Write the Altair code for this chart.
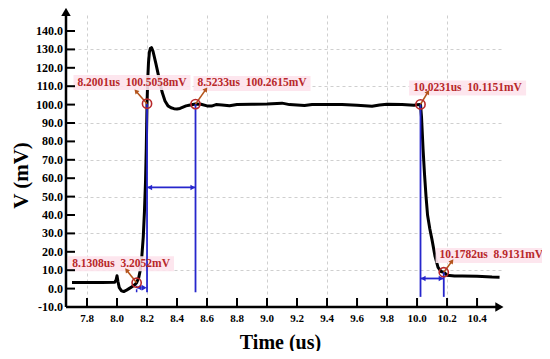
import math
import altair as alt
import pandas as pd

# ---------------- data ----------------
time_us = [7.70, 7.80, 7.90, 7.985, 7.995, 8.000, 8.006, 8.015, 8.030, 8.045, 8.060,
           8.080, 8.100, 8.120, 8.1308, 8.145, 8.155, 8.165, 8.175, 8.183, 8.190, 8.195,
           8.2001, 8.205, 8.210, 8.216, 8.222, 8.230, 8.240, 8.260, 8.280, 8.300, 8.320,
           8.340, 8.360, 8.380, 8.400, 8.420, 8.440, 8.460, 8.480, 8.5233, 8.560, 8.600,
           8.630, 8.660, 8.700, 8.750, 8.800, 8.900, 9.000, 9.100, 9.150, 9.250, 9.300,
           9.400, 9.500, 9.600, 9.700, 9.750, 9.800, 9.900, 9.980, 10.000, 10.0231, 10.030,
           10.040, 10.050, 10.060, 10.070, 10.085, 10.100, 10.120, 10.140, 10.160, 10.1782,
           10.200, 10.250, 10.300, 10.400, 10.500, 10.550]
volt_mv = [3.3, 3.3, 3.3, 3.4, 5.0, 7.0, 4.0, 0.5, -1.2, -1.6, -1.0,
           0.0, 1.0, 2.2, 3.2, 6.0, 10.0, 17.0, 28.0, 42.0, 58.0, 76.0,
           100.5, 114.0, 123.0, 128.5, 130.5, 131.0, 129.0, 122.0, 114.5, 107.0, 102.0,
           99.3, 98.3, 97.8, 97.6, 97.9, 98.6, 99.3, 99.6, 100.3, 100.2, 99.3,
           99.2, 100.0, 99.8, 99.4, 100.1, 100.2, 100.3, 100.8, 100.0, 99.5, 100.0,
           100.0, 100.1, 99.6, 99.1, 99.8, 100.2, 100.0, 99.7, 99.9, 100.1, 93.0,
           76.0, 62.0, 50.0, 40.0, 32.5, 26.5, 17.5, 11.5, 9.3, 8.9,
           7.3, 6.8, 6.9, 6.7, 6.3, 6.2]

x_ticks = [7.8, 8.0, 8.2, 8.4, 8.6, 8.8, 9.0, 9.2, 9.4, 9.6, 9.8, 10.0, 10.2, 10.4]
x_tick_labels = ["7.8", "8.0", "8.2", "8.4", "8.6", "8.8", "9.0", "9.2", "9.4", "9.6",
                 "9.8", "10.0", "10.2", "10.4"]
y_ticks = [-10, 0, 10, 20, 30, 40, 50, 60, 70, 80, 90, 100, 110, 120, 130, 140]
y_tick_labels = ["-10.0", "0.0", "10.0", "20.0", "30.0", "40.0", "50.0", "60.0", "70.0",
                 "80.0", "90.0", "100.0", "110.0", "120.0", "130.0", "140.0"]

marker_t = [8.1308, 8.2001, 8.5233, 10.0231, 10.1782]
marker_v = [3.2052, 100.5058, 100.2615, 100.1, 8.9131]
marker_text = ["8.1308us\u00a0\u00a03.2052mV", "8.2001us\u00a0\u00a0100.5058mV",
               "8.5233us\u00a0\u00a0100.2615mV", "10.0231us\u00a0\u00a010.1151mV",
               "10.1782us\u00a0\u00a08.9131mV"]
label_t = [8.027, 8.100, 8.900, 10.337, 10.495]
label_v = [13.5, 112.0, 111.5, 109.0, 18.0]
tip_t = [8.067, 8.130, 8.590, 10.070, 10.230]
tip_v = [9.7, 107.0, 108.0, 106.5, 14.6]

# blue cursor lines (vertical)
cursor_t = [8.2001, 8.5233, 10.0231, 10.1782]
cursor_lo = [-2.0, -2.0, -4.5, -4.5]
cursor_hi = [100.5, 100.3, 100.1, 8.9]
# blue interval arrows (horizontal)
span_from = [8.2001, 10.0231]
span_to = [8.5233, 10.1782]
span_v = [55.0, 5.5]
# small dashed interval at the first marker
dash_from = [8.1308]
dash_to = [8.2001]
dash_v = [0.5]

# ---------------- layout constants ----------------
X_MIN, X_MAX = 7.66, 10.573
Y_MIN, Y_MAX = -10.0, 148.7
W, H = 437, 292
PX_X = W / (X_MAX - X_MIN)
PX_Y = H / (Y_MAX - Y_MIN)

SERIF = "Liberation Serif"
RED = "#b8282a"
BROWN = "#b4541c"
BLUE = "#2626cc"
PINK = "#fde3ec"
GRID = "#cfcfcf"

xs = alt.Scale(domain=[X_MIN, X_MAX], nice=False, zero=False)
ys = alt.Scale(domain=[Y_MIN, Y_MAX], nice=False, zero=False)


def X(field):
    return alt.X(field, scale=xs)


def Y(field):
    return alt.Y(field, scale=ys)


curve = pd.DataFrame({"t": time_us, "v": volt_mv})

base_axes = alt.Chart(curve).mark_line(color="black", strokeWidth=3, strokeJoin="round").encode(
    x=alt.X("t:Q", scale=xs,
            axis=alt.Axis(values=x_ticks, grid=True, gridDash=[3, 3],
                          gridColor=GRID, gridWidth=1, domain=False, ticks=False,
                          labels=False,
                          title="Time (us)", titleFont=SERIF, titleFontSize=20,
                          titleFontWeight="bold", titleColor="black", titlePadding=25,
                          titleX=214)),
    y=alt.Y("v:Q", scale=ys,
            axis=alt.Axis(values=y_ticks, grid=True, gridDash=[3, 3],
                          gridColor=GRID, gridWidth=1, domain=False, ticks=False,
                          labels=False,
                          title="V (mV)", titleFont=SERIF, titleFontSize=21,
                          titleFontWeight="bold", titleColor="black", titlePadding=35,
                          titleY=160)),
)

# tick labels drawn as text so that every one shows
xl = pd.DataFrame({"x": x_ticks, "lab": x_tick_labels, "y": [Y_MIN] * len(x_ticks)})
x_labels = alt.Chart(xl).mark_text(font=SERIF, fontWeight="bold", fontSize=11, color="black",
                                   align="center", baseline="top", dy=6).encode(
    x=X("x:Q"), y=Y("y:Q"), text="lab:N")
yl = pd.DataFrame({"y": y_ticks, "lab": y_tick_labels, "x": [X_MIN] * len(y_ticks)})
y_labels = alt.Chart(yl).mark_text(font=SERIF, fontWeight="bold", fontSize=12, color="black",
                                   align="right", baseline="middle", dx=-3).encode(
    x=X("x:Q"), y=Y("y:Q"), text="lab:N")

axis_lines = pd.DataFrame({
    "x": [X_MIN, X_MIN], "x2": [X_MIN, 10.54],
    "y": [Y_MIN, Y_MIN], "y2": [149.0, Y_MIN],
})
axis_rules = alt.Chart(axis_lines).mark_rule(color="black", strokeWidth=2.5).encode(
    x=X("x:Q"), x2="x2:Q", y=Y("y:Q"), y2="y2:Q")
axis_heads = pd.DataFrame({"x": [X_MIN, 10.54], "y": [149.6, Y_MIN], "ang": [0, 90]})
axis_arrow = alt.Chart(axis_heads).mark_point(shape="triangle", filled=True, color="black",
                                              size=90, opacity=1).encode(
    x=X("x:Q"), y=Y("y:Q"), angle=alt.Angle("ang:Q", scale=None))

xt = pd.DataFrame({"x": x_ticks, "y": [Y_MIN] * len(x_ticks), "y2": [Y_MIN + 9 / PX_Y] * len(x_ticks)})
x_tick_marks = alt.Chart(xt).mark_rule(color="black", strokeWidth=2).encode(
    x=X("x:Q"), y=Y("y:Q"), y2="y2:Q")
yt_vals = [v for v in y_ticks if v > Y_MIN]
yt = pd.DataFrame({"y": yt_vals, "x": [X_MIN] * len(yt_vals), "x2": [X_MIN + 9 / PX_X] * len(yt_vals)})
y_tick_marks = alt.Chart(yt).mark_rule(color="black", strokeWidth=2).encode(
    y=Y("y:Q"), x=X("x:Q"), x2="x2:Q")

lab = pd.DataFrame({"t": label_t, "v": label_v, "txt": marker_text})
half_w = [(len(s) * 5.55 + 6) / 2 / PX_X for s in marker_text]
lab["x1"] = [t - h for t, h in zip(label_t, half_w)]
lab["x2"] = [t + h for t, h in zip(label_t, half_w)]
lab["y1"] = [v - 7.5 / PX_Y for v in label_v]
lab["y2"] = [v + 7.5 / PX_Y for v in label_v]
label_bg = alt.Chart(lab).mark_rect(color=PINK, opacity=0.9).encode(
    x=X("x1:Q"), x2="x2:Q", y=Y("y1:Q"), y2="y2:Q")
label_txt = alt.Chart(lab).mark_text(font=SERIF, fontWeight="bold", fontSize=11.5,
                                     color=RED, align="center", baseline="middle").encode(
    x=X("t:Q"), y=Y("v:Q"), text="txt:N")

cur = pd.DataFrame({"x": cursor_t, "y": cursor_lo, "y2": cursor_hi})
cursor_rules = alt.Chart(cur).mark_rule(color=BLUE, strokeWidth=1.8).encode(
    x=X("x:Q"), y=Y("y:Q"), y2="y2:Q")
spn = pd.DataFrame({"x": span_from, "x2": span_to, "y": span_v})
span_rules = alt.Chart(spn).mark_rule(color=BLUE, strokeWidth=1.8).encode(
    x=X("x:Q"), x2="x2:Q", y=Y("y:Q"))
dsh = pd.DataFrame({"x": dash_from, "x2": dash_to, "y": dash_v})
dash_rules = alt.Chart(dsh).mark_rule(color=BLUE, strokeWidth=1.5, strokeDash=[3, 2]).encode(
    x=X("x:Q"), x2="x2:Q", y=Y("y:Q"))
dsh_v = pd.DataFrame({"x": dash_from, "y": [-2.0], "y2": [1.5]})
dash_vert = alt.Chart(dsh_v).mark_rule(color=BLUE, strokeWidth=1.5, strokeDash=[3, 2]).encode(
    x=X("x:Q"), y=Y("y:Q"), y2="y2:Q")

head_off = 3.5 / PX_X
heads = pd.DataFrame({
    "x": [a + head_off for a in span_from + dash_from] + [b - head_off for b in span_to + dash_to],
    "y": span_v + dash_v + span_v + dash_v,
    "ang": [270] * (len(span_from) + len(dash_from)) + [90] * (len(span_to) + len(dash_to)),
})
span_heads = alt.Chart(heads).mark_point(shape="triangle", filled=True, color=BLUE, size=30,
                                         opacity=1).encode(
    x=X("x:Q"), y=Y("y:Q"), angle=alt.Angle("ang:Q", scale=None))

arr = pd.DataFrame({"x": marker_t, "y": marker_v, "x2": tip_t, "y2": tip_v})
arr["ang"] = [(math.degrees(math.atan2((b - a) * PX_X, (d - c) * PX_Y)) + 360) % 360
              for a, b, c, d in zip(marker_t, tip_t, marker_v, tip_v)]
arrow_lines = alt.Chart(arr).mark_rule(color=BROWN, strokeWidth=1.6).encode(
    x=X("x:Q"), x2="x2:Q", y=Y("y:Q"), y2="y2:Q")
arrow_heads = alt.Chart(arr).mark_point(shape="triangle", filled=True, color=BROWN, size=28,
                                        opacity=1).encode(
    x=X("x2:Q"), y=Y("y2:Q"), angle=alt.Angle("ang:Q", scale=None))

mk = pd.DataFrame({"t": marker_t, "v": marker_v})
circles = alt.Chart(mk).mark_point(shape="circle", filled=False, color=RED, size=85,
                                   strokeWidth=1.6, opacity=1).encode(
    x=X("t:Q"), y=Y("v:Q"))

chart = alt.layer(
    base_axes, label_bg, cursor_rules, span_rules, dash_rules, dash_vert, span_heads,
    axis_rules, axis_arrow, x_tick_marks, y_tick_marks, x_labels, y_labels,
    arrow_lines, arrow_heads, circles, label_txt,
).properties(
    width=W, height=H,
    autosize=alt.AutoSizeParams(type="none"),
    padding={"left": 58, "top": 7, "right": 39, "bottom": 44},
    background="white",
).configure_view(stroke=None)

chart.save("out.html", embed_options={"renderer": "svg", "actions": False})
